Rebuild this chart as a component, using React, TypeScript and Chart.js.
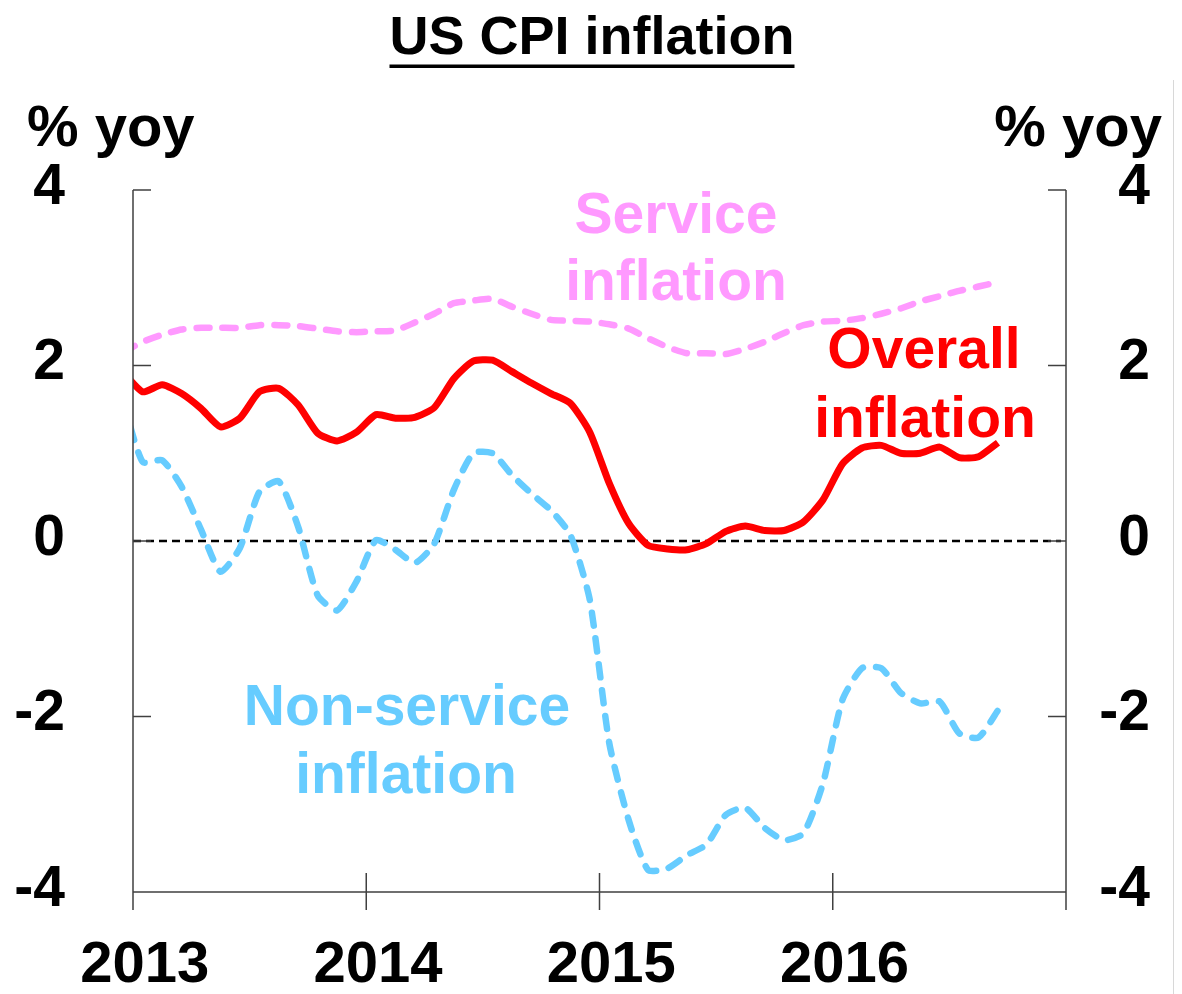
import React, { useEffect, useRef } from "react";
import { Chart, registerables } from "chart.js";

Chart.register(...registerables);

const FONT = '"Liberation Sans", Arial, "DejaVu Sans", sans-serif';

// Monthly % yoy, Dec 2012 .. Sep 2016 (first point sits just left of the axis and is clipped)
const overall = [
  1.92,
  1.70, 1.78, 1.68, 1.51, 1.30, 1.40, 1.70, 1.74, 1.55, 1.23, 1.14, 1.24,
  1.44, 1.40, 1.41, 1.52, 1.85, 2.05, 2.06, 1.93, 1.80, 1.68, 1.57, 1.24,
  0.66, 0.20, -0.05, -0.09, -0.10, -0.03, 0.11, 0.17, 0.12, 0.12, 0.22, 0.47,
  0.88, 1.06, 1.09, 1.00, 1.00, 1.07, 0.95, 0.96, 1.12,
];
const service = [
  2.15,
  2.27, 2.35, 2.41, 2.43, 2.43, 2.43, 2.46, 2.46, 2.45, 2.42, 2.39, 2.38,
  2.39, 2.40, 2.49, 2.59, 2.71, 2.74, 2.76, 2.67, 2.59, 2.52, 2.51, 2.50,
  2.47, 2.42, 2.31, 2.21, 2.14, 2.14, 2.13, 2.19, 2.27, 2.37, 2.46, 2.50,
  2.51, 2.54, 2.59, 2.65, 2.73, 2.79, 2.85, 2.90, 2.95,
];
const nonService = [
  1.58,
  0.90, 0.92, 0.62, 0.13, -0.35, -0.08, 0.56, 0.68, 0.16, -0.62, -0.79, -0.46,
  0.01, -0.10, -0.25, -0.03, 0.58, 1.00, 1.00, 0.75, 0.54, 0.35, 0.07, -0.67,
  -2.30, -3.18, -3.75, -3.73, -3.58, -3.46, -3.12, -3.04, -3.27, -3.41, -3.33, -2.76,
  -1.81, -1.45, -1.45, -1.73, -1.85, -1.83, -2.19, -2.24, -1.93,
];

const yTicks = [4, 2, 0, -2, -4];
const yTickLabels = ["4", "2", "0", "-2", "-4"];
const yearTicks = [0, 12, 24, 36, 48]; // months since Jan 2013
const yearLabels = ["2013", "2014", "2015", "2016"];
const titleText = "US CPI inflation";
const unitText = "% yoy";
const serviceLabel = ["Service", "inflation"];
const overallLabel = ["Overall", "inflation"];
const nonServiceLabel = ["Non-service", "inflation"];

const RED = "#FF0000";
const PINK = "#FF99FF";
const BLUE = "#66CCFF";
const AXIS = "#404040";

// first value is Dec 2012, plotted mid-month
const toPoints = (vals: number[]) => vals.map((v, i) => ({ x: i - 0.5, y: v }));

const decor = {
  id: "decor",
  beforeDatasetsDraw(chart: any) {
    const { ctx, chartArea, scales } = chart;
    const y0 = scales.y.getPixelForValue(0);
    ctx.save();
    ctx.strokeStyle = "#000";
    ctx.lineWidth = 2.5;
    ctx.setLineDash([8, 5]);
    ctx.beginPath();
    ctx.moveTo(chartArea.left, y0);
    ctx.lineTo(chartArea.right - 5, y0);
    ctx.stroke();
    ctx.restore();
  },
  afterDatasetsDraw(chart: any) {
    const { ctx, chartArea, scales } = chart;
    const xs = scales.x;
    const ys = scales.y;
    const { left, right, top, bottom } = chartArea;
    ctx.save();
    // axes
    ctx.strokeStyle = AXIS;
    ctx.lineWidth = 1.5;
    ctx.setLineDash([]);
    ctx.beginPath();
    ctx.moveTo(left, top);
    ctx.lineTo(left, bottom + 18);
    ctx.moveTo(right, top);
    ctx.lineTo(right, bottom + 18);
    ctx.moveTo(left, bottom);
    ctx.lineTo(right, bottom);
    yTicks.forEach((v) => {
      const py = ys.getPixelForValue(v);
      ctx.moveTo(left, py);
      ctx.lineTo(left + 18, py);
      ctx.moveTo(right, py);
      ctx.lineTo(right - 18, py);
    });
    yearTicks.forEach((m) => {
      const px = xs.getPixelForValue(m);
      ctx.moveTo(px, bottom - 19);
      ctx.lineTo(px, bottom + 18);
    });
    ctx.stroke();

    // faint frame line at right edge
    ctx.strokeStyle = "#d8d8d8";
    ctx.lineWidth = 1;
    ctx.beginPath();
    ctx.moveTo(1173.5, 80);
    ctx.lineTo(1173.5, 994);
    ctx.stroke();

    // y tick labels
    ctx.fillStyle = "#000";
    ctx.font = `bold 57px ${FONT}`;
    ctx.textBaseline = "middle";
    ctx.textAlign = "right";
    yTicks.forEach((v, i) => {
      const py = ys.getPixelForValue(v) - 2;
      ctx.fillText(yTickLabels[i], 65, py);
      ctx.fillText(yTickLabels[i], 1150, py);
    });

    // unit labels
    ctx.font = `bold 58px ${FONT}`;
    ctx.textBaseline = "alphabetic";
    ctx.textAlign = "left";
    ctx.fillText(unitText, 27, 146);
    ctx.textAlign = "right";
    ctx.fillText(unitText, 1162, 146);

    // x labels
    ctx.font = `bold 58px ${FONT}`;
    ctx.textAlign = "center";
    yearLabels.forEach((lab, i) => {
      const px = xs.getPixelForValue(yearTicks[i] + 0.6);
      ctx.fillText(lab, px, 982);
    });

    // title
    ctx.font = `bold 54px ${FONT}`;
    ctx.textAlign = "center";
    const tw = ctx.measureText(titleText).width;
    ctx.fillText(titleText, 592, 54);
    ctx.fillRect(592 - tw / 2, 64.5, tw, 3.5);

    // series annotations
    ctx.font = `bold 57px ${FONT}`;
    ctx.fillStyle = PINK;
    ctx.fillText(serviceLabel[0], 676, 233);
    ctx.fillText(serviceLabel[1], 676, 300);
    ctx.fillStyle = RED;
    ctx.fillText(overallLabel[0], 924, 368);
    ctx.fillText(overallLabel[1], 925, 437);
    ctx.fillStyle = BLUE;
    ctx.fillText(nonServiceLabel[0], 407, 725);
    ctx.fillText(nonServiceLabel[1], 406, 793);
    ctx.restore();
  },
};

export default function App() {
  const ref = useRef<HTMLCanvasElement | null>(null);
  useEffect(() => {
    document.body.style.margin = "0";
    const canvas = ref.current;
    if (!canvas) return;
    const chart = new Chart(canvas, {
      type: "line",
      data: {
        datasets: [
          {
            label: "Overall inflation",
            data: toPoints(overall),
            borderColor: RED,
            borderWidth: 7,
            tension: 0.2,
            pointRadius: 0,
            clip: 0,
            borderJoinStyle: "round",
          },
          {
            label: "Service inflation",
            data: toPoints(service),
            borderColor: PINK,
            borderWidth: 6.5,
            borderDash: [13, 13],
            borderCapStyle: "round",
            tension: 0.2,
            pointRadius: 0,
            clip: 0,
          },
          {
            label: "Non-service inflation",
            data: toPoints(nonService),
            borderColor: BLUE,
            borderWidth: 6.5,
            borderDash: [13, 13],
            borderCapStyle: "round",
            tension: 0.2,
            pointRadius: 0,
            clip: 0,
          },
        ],
      },
      options: {
        responsive: false,
        animation: false,
        layout: { padding: { left: 133, right: 116, top: 190, bottom: 102 } },
        plugins: { legend: { display: false }, tooltip: { enabled: false }, title: { display: false } },
        scales: {
          x: { type: "linear", min: 0, max: 48, display: false },
          y: { type: "linear", min: -4, max: 4, display: false },
        },
      },
      plugins: [decor],
    } as any);
    return () => chart.destroy();
  }, []);
  return (
    <div style={{ width: 1182, height: 994, background: "#fff" }}>
      <canvas ref={ref} width={1182} height={994} style={{ display: "block" }} />
    </div>
  );
}
